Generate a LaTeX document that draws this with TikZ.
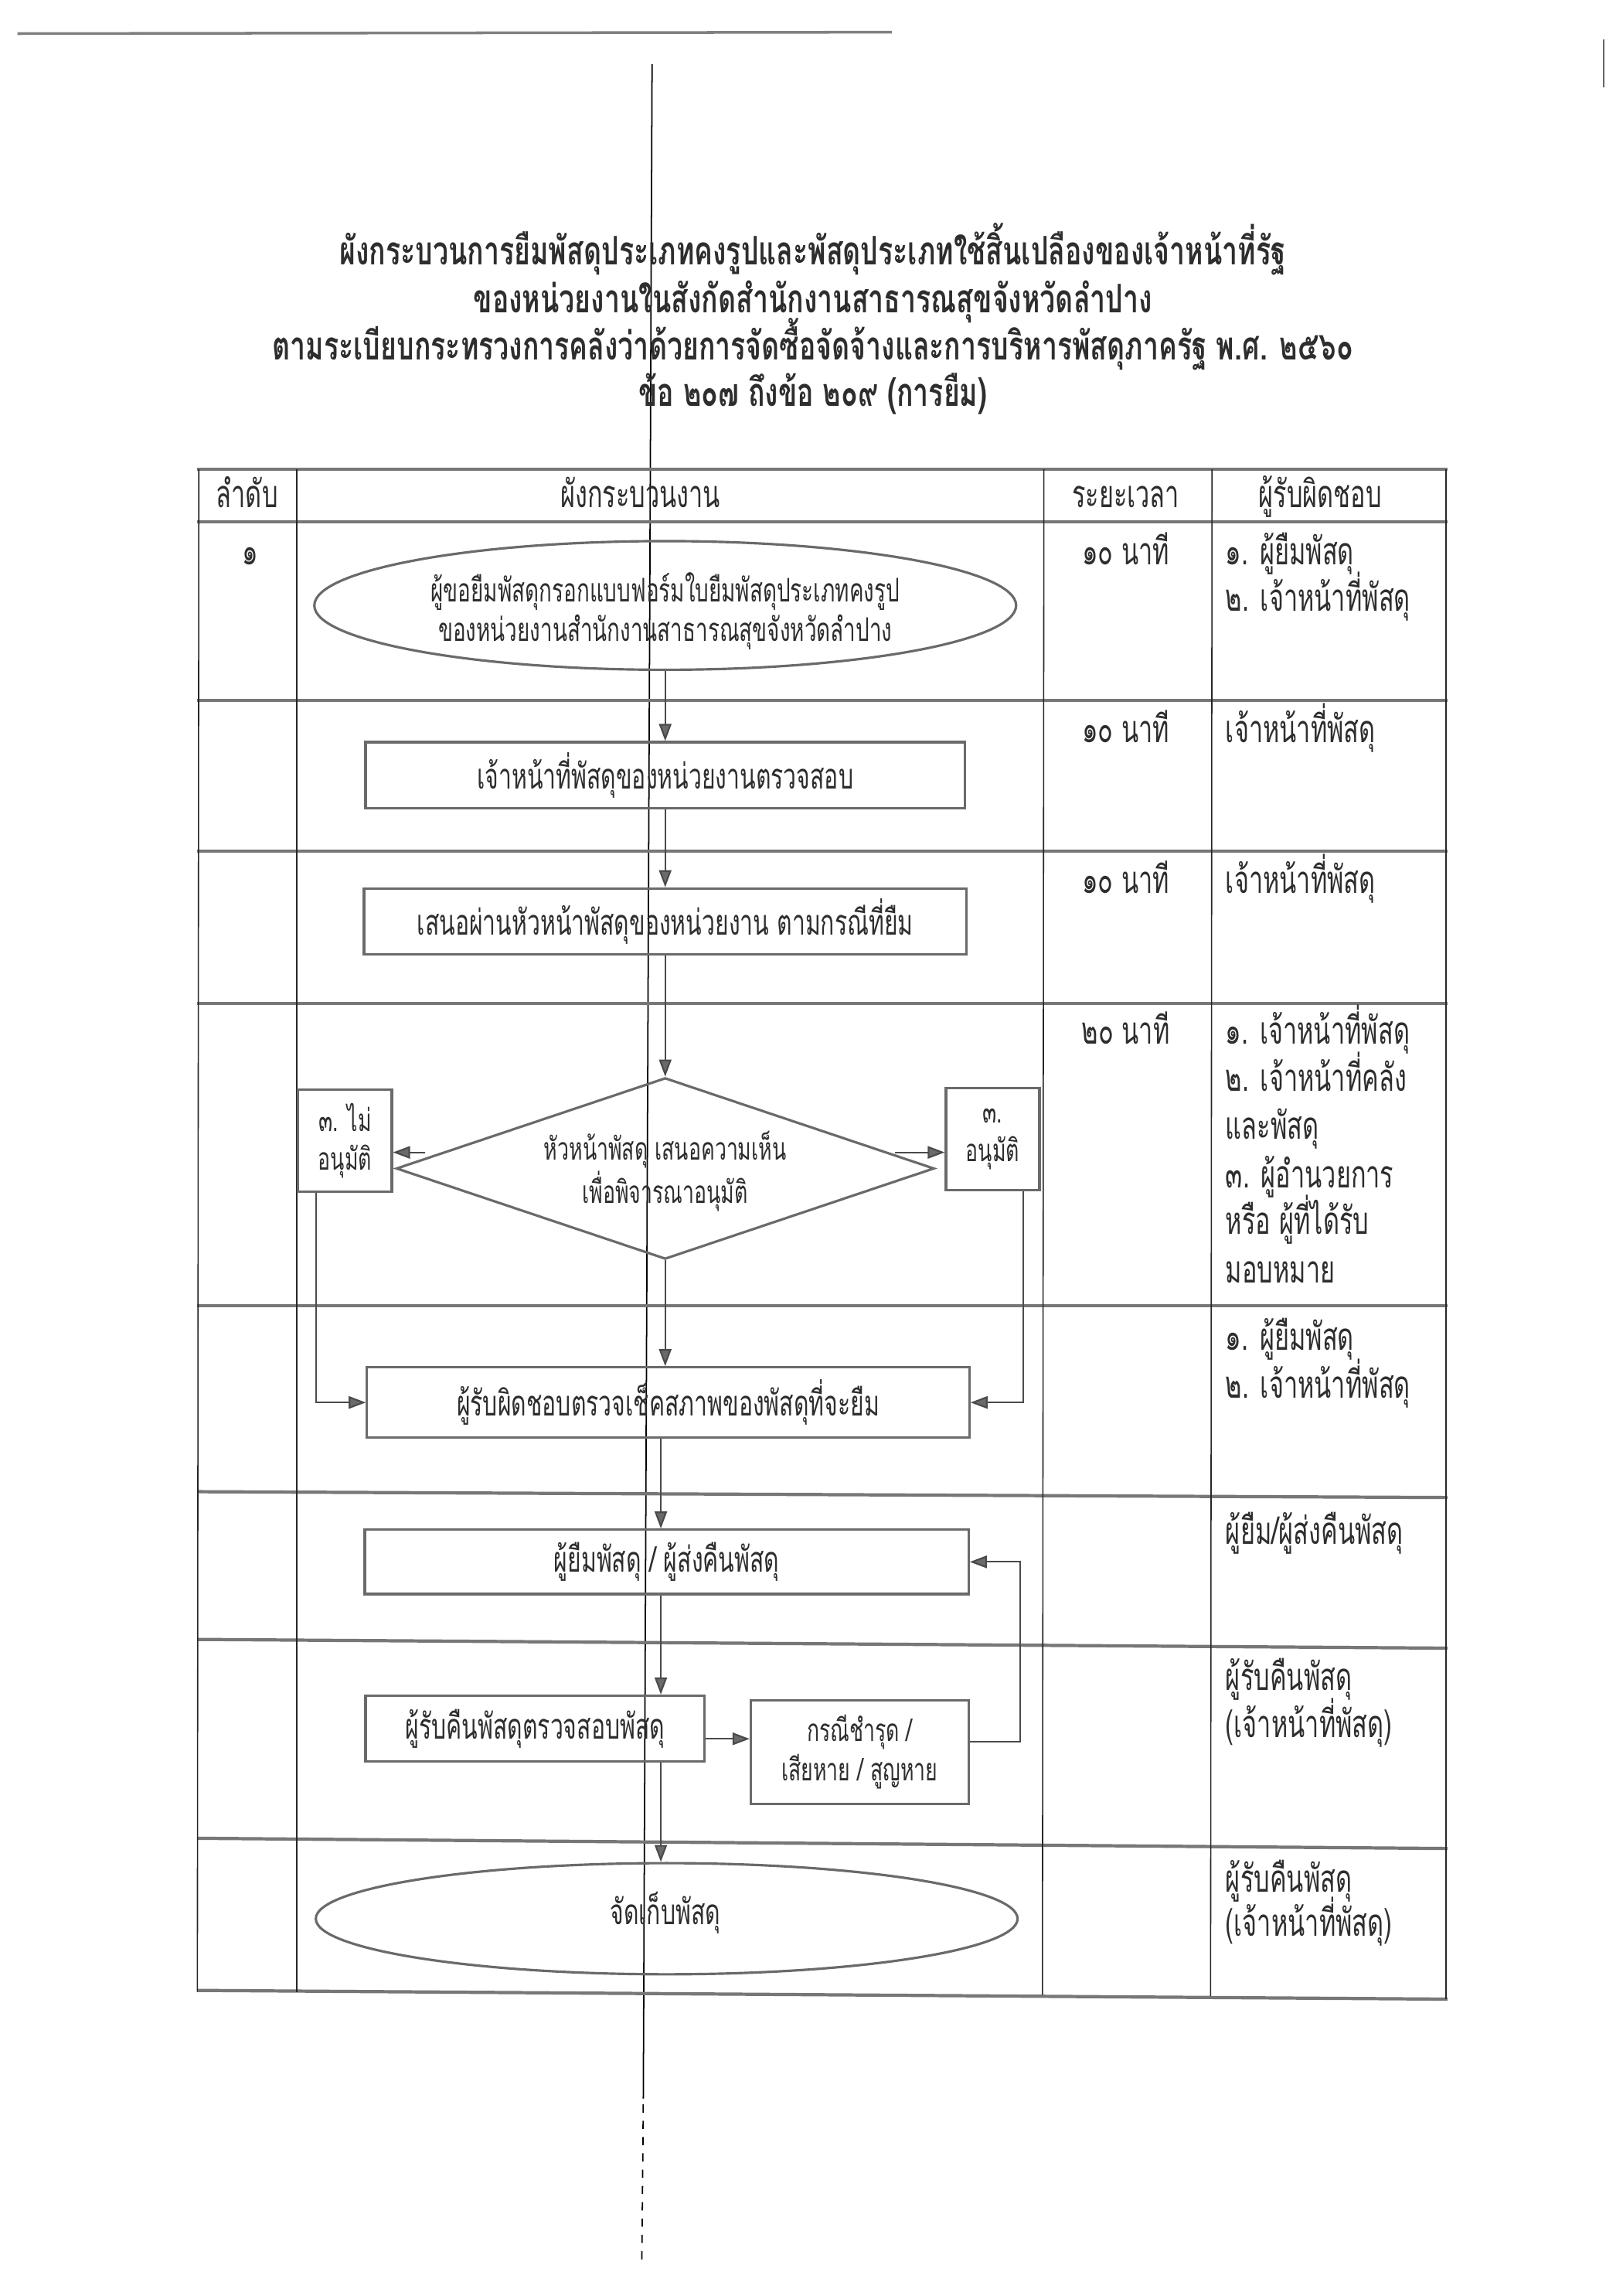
\documentclass[tikz,border=0pt]{standalone}
\usepackage{fontspec}
\usetikzlibrary{arrows.meta,shapes.geometric,calc}
\newfontfamily\thb[Script=Thai,FakeStretch=0.66]{Loma}
\newfontfamily\tht[Script=Thai,FakeStretch=0.70]{Loma}
\definecolor{ink}{HTML}{2E2E2E}
\definecolor{boxg}{HTML}{6A6A6A}
\definecolor{lineg}{HTML}{777777}
\definecolor{flowg}{HTML}{4A4A4A}
\newcommand{\pu}{0.18919mm}
\begin{document}
\begin{tikzpicture}[x=0.18919mm,y=-0.18919mm,
  ttl/.style={text=ink,font=\tht\bfseries\fontsize{14.5}{17}\selectfont,inner sep=0pt,anchor=base},
  rsp/.style={text=ink,font=\thb\fontsize{14}{17}\selectfont,inner sep=0pt,anchor=base west},
  hdr/.style={text=ink,font=\thb\fontsize{14}{17}\selectfont,inner sep=0pt,anchor=base},
  tim/.style={text=ink,font=\thb\fontsize{14}{17}\selectfont,inner sep=0pt,anchor=base},
  btxt/.style={text=ink,font=\thb\fontsize{13}{17}\selectfont,inner sep=0pt},
  stxt/.style={text=ink,font=\thb\fontsize{11.5}{13.5}\selectfont,inner sep=0pt,align=center},
  procbox/.style={draw=boxg,line width=0.9pt,rectangle,inner sep=0pt,align=center,
    text=ink,font=\thb\fontsize{13}{17}\selectfont},
  sbox/.style={draw=boxg,line width=0.9pt,rectangle,inner sep=0pt,align=center,
    text=ink,font=\thb\fontsize{11.5}{14}\selectfont},
  ovalsh/.style={draw=boxg,line width=0.9pt,ellipse,inner sep=0pt},
  decsh/.style={draw=boxg,line width=0.9pt,diamond,inner sep=0pt},
  hl/.style={draw=lineg,line width=1.2pt},
  vl/.style={draw=black!85,line width=0.45pt},
  arr/.style={draw=flowg,line width=0.6pt,-{Triangle[length=2.2mm,width=1.6mm,fill=boxg]}},
  scanln/.style={draw=black,line width=0.5pt}
]
\useasboundingbox[fill=white] (0,0) rectangle (1110,1570);

% scan artefacts
\draw[scanln,draw=black!50,line width=1pt] (12,23) -- (610,22);
\draw[scanln] (446,44) -- (440,1435);
\draw[scanln,dashed] (440,1439) -- (439,1546);
\draw[scanln,draw=black!60] (1097,27) -- (1097,60);

% title
\node[ttl] (t1) at (556,181) {ผังกระบวนการยืมพัสดุประเภทคงรูปและพัสดุประเภทใช้สิ้นเปลืองของเจ้าหน้าที่รัฐ};
\node[ttl] (t2) at (556,214) {ของหน่วยงานในสังกัดสำนักงานสาธารณสุขจังหวัดลำปาง};
\node[ttl] (t3) at (556,246) {ตามระเบียบกระทรวงการคลังว่าด้วยการจัดซื้อจัดจ้างและการบริหารพัสดุภาครัฐ พ.ศ. ๒๕๖๐};
\node[ttl] (t4) at (556,278) {ข้อ ๒๐๗ ถึงข้อ ๒๐๙ (การยืม)};

% table grid
\draw[hl] (135,321) -- (990,321);
\draw[hl] (135,357) -- (990,357);
\draw[hl] (135,479) -- (990,479);
\draw[hl] (135,582) -- (990,582);
\draw[hl] (135,686) -- (990,686);
\draw[hl] (135,893) -- (990,893);
\draw[hl] (135,1020) -- (990,1024);
\draw[hl] (135,1121) -- (990,1127);
\draw[hl] (135,1257) -- (990,1264);
\draw[hl] (135,1361) -- (990,1367);
\draw[vl] (136,321) -- (135,1362);
\draw[vl] (203,321) -- (203,1362);
\draw[vl] (714,321) -- (713,1364);
\draw[vl] (829,321) -- (828,1365);
\draw[vl] (989,321) -- (989,1367);

% header
\node[hdr] (h1) at (169,347) {ลำดับ};
\node[hdr] (h2) at (438,347) {ผังกระบวนงาน};
\node[hdr] (h3) at (770,347) {ระยะเวลา};
\node[hdr] (h4) at (903,347) {ผู้รับผิดชอบ};

% column 1
\node[hdr] (n1) at (171,386) {๑};

% time column
\node[tim] (m1) at (770,386) {๑๐ นาที};
\node[tim] (m2) at (770,508) {๑๐ นาที};
\node[tim] (m3) at (770,611) {๑๐ นาที};
\node[tim] (m4) at (770,714) {๒๐ นาที};

% responsibility column
\node[rsp] (r1a) at (838,386) {๑. ผู้ยืมพัสดุ};
\node[rsp] (r1b) at (838,418) {๒. เจ้าหน้าที่พัสดุ};
\node[rsp] (r2) at (838,508) {เจ้าหน้าที่พัสดุ};
\node[rsp] (r3) at (838,611) {เจ้าหน้าที่พัสดุ};
\node[rsp] (r4a) at (838,714) {๑. เจ้าหน้าที่พัสดุ};
\node[rsp] (r4b) at (838,746) {๒. เจ้าหน้าที่คลัง};
\node[rsp] (r4c) at (838,779) {และพัสดุ};
\node[rsp] (r4d) at (838,812) {๓. ผู้อำนวยการ};
\node[rsp] (r4e) at (838,844) {หรือ ผู้ที่ได้รับ};
\node[rsp] (r4f) at (838,877) {มอบหมาย};
\node[rsp] (r5a) at (838,923) {๑. ผู้ยืมพัสดุ};
\node[rsp] (r5b) at (838,956) {๒. เจ้าหน้าที่พัสดุ};
\node[rsp] (r6) at (838,1056) {ผู้ยืม/ผู้ส่งคืนพัสดุ};
\node[rsp] (r7a) at (838,1156) {ผู้รับคืนพัสดุ};
\node[rsp] (r7b) at (838,1188) {(เจ้าหน้าที่พัสดุ)};
\node[rsp] (r8a) at (838,1294) {ผู้รับคืนพัสดุ};
\node[rsp] (r8b) at (838,1324) {(เจ้าหน้าที่พัสดุ)};

% flowchart shapes
\node[ovalsh,minimum width=480*\pu,minimum height=88*\pu] (ell1) at (455,414) {};
\node[stxt,font=\thb\fontsize{12}{14.5}\selectfont] (ell1t) at (455,418) {ผู้ขอยืมพัสดุกรอกแบบฟอร์มใบยืมพัสดุประเภทคงรูป\\ของหน่วยงานสำนักงานสาธารณสุขจังหวัดลำปาง};

\node[procbox,minimum width=410*\pu,minimum height=45*\pu] (box2) at (455,530) {เจ้าหน้าที่พัสดุของหน่วยงานตรวจสอบ};
\node[procbox,minimum width=412*\pu,minimum height=45*\pu] (box3) at (455,630) {เสนอผ่านหัวหน้าพัสดุของหน่วยงาน ตามกรณีที่ยืม};

\node[decsh,minimum width=368*\pu,minimum height=124*\pu] (dia) at (455,799) {};
\node[stxt] (diat) at (455,801) {หัวหน้าพัสดุ เสนอความเห็น\\เพื่อพิจารณาอนุมัติ};

\node[sbox,minimum width=64*\pu,minimum height=70*\pu] (lbox) at (236,780) {๓. ไม่\\อนุมัติ};
\node[sbox,minimum width=64*\pu,minimum height=70*\pu] (rbox) at (679,779) {๓.\\อนุมัติ};

\node[procbox,minimum width=412*\pu,minimum height=48*\pu] (box5) at (457,959) {ผู้รับผิดชอบตรวจเช็คสภาพของพัสดุที่จะยืม};
\node[procbox,minimum width=413*\pu,minimum height=44*\pu] (box6) at (456,1068) {ผู้ยืมพัสดุ / ผู้ส่งคืนพัสดุ};
\node[procbox,minimum width=232*\pu,minimum height=45*\pu] (box7) at (366,1182) {ผู้รับคืนพัสดุตรวจสอบพัสดุ};
\node[sbox,minimum width=149*\pu,minimum height=71*\pu,font=\thb\fontsize{11.5}{14.5}\selectfont] (box8) at (588,1198) {กรณีชำรุด /\\เสียหาย / สูญหาย};

\node[ovalsh,minimum width=480*\pu,minimum height=76*\pu] (ell2) at (456,1312) {};
\node[btxt] (ell2t) at (455,1308) {จัดเก็บพัสดุ};

% connectors
\coordinate (fx) at (452,0);
\coordinate (dl) at (291,788);
\coordinate (dr) at (612,788);
\coordinate (lc) at (216,0);
\coordinate (rc) at (700,0);
\coordinate (lp) at (698,1191);
\coordinate (bx) at (0,1189);

\draw[arr] (ell1.south) -- (box2.north);
\draw[arr] (box2.south) -- (box3.north);
\draw[arr] (box3.south) -- (dia.north);
\draw[arr] (dl) -- (dl -| lbox.east);
\draw[arr] (dr) -- (dr -| rbox.west);
\draw[arr] (dia.south) -- (dia.south |- box5.north);
\draw[arr] (lbox.south -| lc) |- (box5.west);
\draw[arr] (rbox.south -| rc) |- (box5.east);
\draw[arr] (box5.south -| fx) -- (fx |- box6.north);
\draw[arr] (box6.south -| fx) -- (fx |- box7.north);
\draw[arr] (box7.east |- bx) -- (box8.west |- bx);
\draw[arr] (box8.east |- lp) -- (lp) |- (box6.east);
\draw[arr] (box7.south -| fx) -- (fx |- ell2.north);
\end{tikzpicture}
\end{document}
